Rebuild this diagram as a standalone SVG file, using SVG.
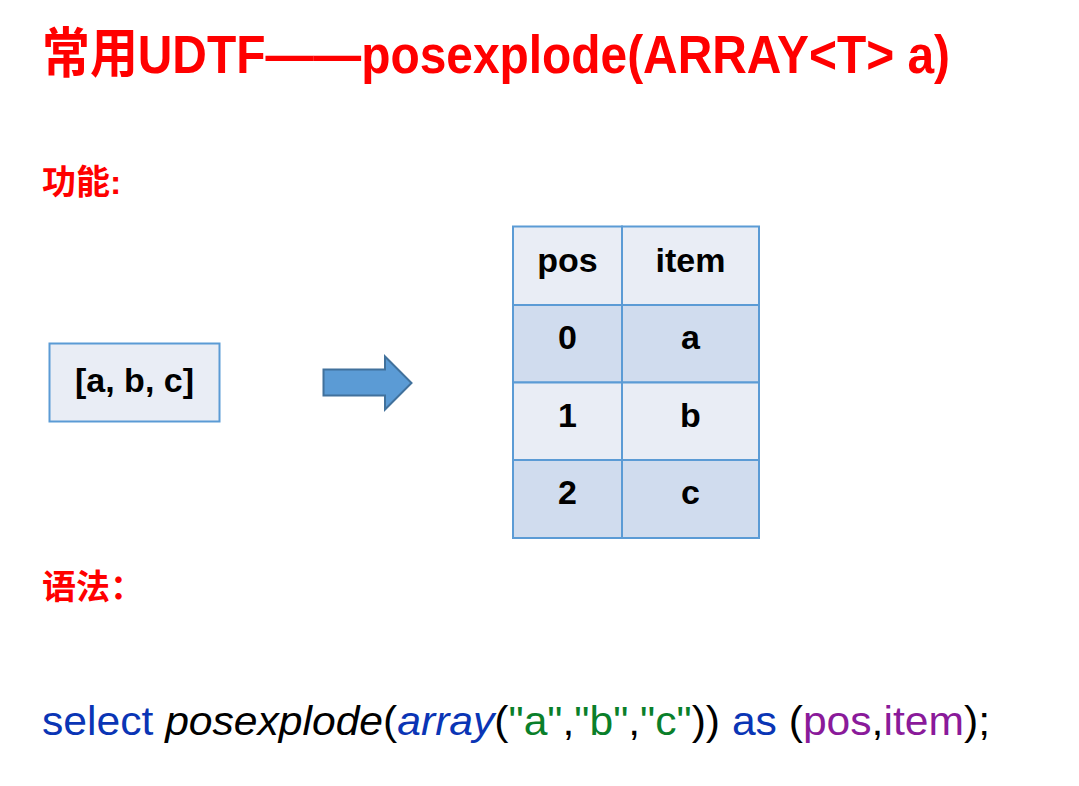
<svg xmlns="http://www.w3.org/2000/svg" width="1079" height="786" viewBox="0 0 1079 786">
<style>
.t{font-family:"Liberation Sans","Noto Sans CJK SC",Arial,sans-serif;font-weight:bold;fill:#ff0000}
.c{font-family:"Liberation Sans","Noto Sans CJK SC",Arial,sans-serif;font-weight:bold;fill:#000;font-size:34px;text-anchor:middle}
.cell{stroke:#5b9bd5;stroke-width:2}
.l{fill:#e9edf5}
.d{fill:#d0dcee}
.code{font-family:"Liberation Sans",Arial,sans-serif;font-size:40px}
.k{fill:#0a35b5}
.s{fill:#0a7f2a}
.p{fill:#8a1a9a}
</style>
<rect width="1079" height="786" fill="#fff"/>
<g id="title">
<text class="t" x="42" y="73" font-size="54" textLength="908" lengthAdjust="spacingAndGlyphs">常用UDTF——posexplode(ARRAY&lt;T&gt; a)</text>
</g>
<g id="label-func">
<text class="t" x="42" y="194" font-size="34">功能:</text>
</g>
<g id="input">
<rect x="49.5" y="343.5" width="170" height="78" fill="#e9edf5" stroke="#5b9bd5" stroke-width="2"/>
<text class="c" x="134.5" y="392" font-size="35">[a, b, c]</text>
</g>
<g id="connectors">
<path d="M323.5,369.5 H385 V356.5 L411.5,383 L385,409.5 V395.5 H323.5 Z" fill="#5b9bd5" stroke="#41719c" stroke-width="2" stroke-linejoin="miter"/>
</g>
<g id="table">
<rect class="cell l" x="513" y="226.5" width="109" height="78.5"/>
<rect class="cell l" x="622" y="226.5" width="137" height="78.5"/>
<rect class="cell d" x="513" y="305" width="109" height="77.5"/>
<rect class="cell d" x="622" y="305" width="137" height="77.5"/>
<rect class="cell l" x="513" y="382.5" width="109" height="77.5"/>
<rect class="cell l" x="622" y="382.5" width="137" height="77.5"/>
<rect class="cell d" x="513" y="460" width="109" height="78"/>
<rect class="cell d" x="622" y="460" width="137" height="78"/>
<text class="c" x="567.5" y="272">pos</text>
<text class="c" x="690.5" y="272">item</text>
<text class="c" x="567.5" y="349">0</text>
<text class="c" x="690.5" y="349">a</text>
<text class="c" x="567.5" y="427">1</text>
<text class="c" x="690.5" y="427">b</text>
<text class="c" x="567.5" y="504">2</text>
<text class="c" x="690.5" y="504">c</text>
</g>
<g id="label-syntax">
<text class="t" x="42" y="599" font-size="34">语法：</text>
</g>
<g id="code">
<text class="code" x="42" y="735" textLength="948" lengthAdjust="spacingAndGlyphs"><tspan class="k">select</tspan> <tspan font-style="italic">posexplode</tspan>(<tspan class="k" font-style="italic">array</tspan>(<tspan class="s">"a"</tspan>,<tspan class="s">"b"</tspan>,<tspan class="s">"c"</tspan>)) <tspan class="k">as</tspan> (<tspan class="p">pos</tspan>,<tspan class="p">item</tspan>);</text>
</g>
</svg>
